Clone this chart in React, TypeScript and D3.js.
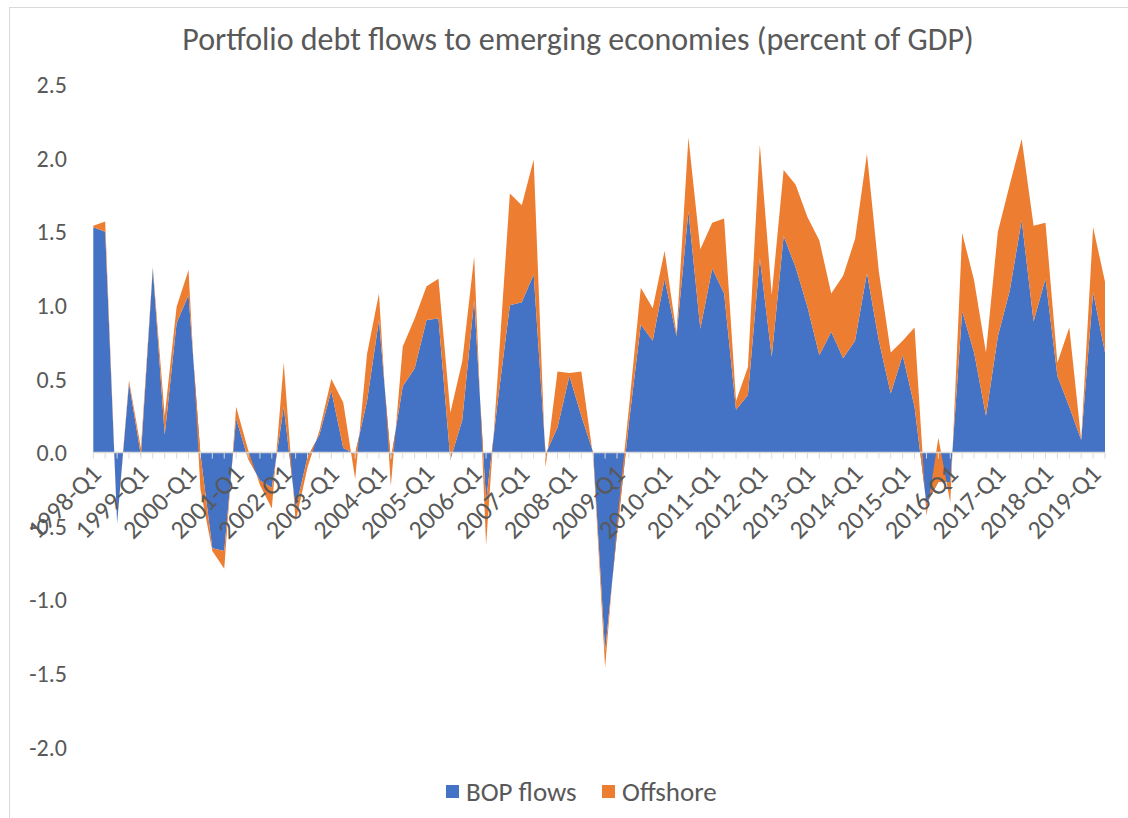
import React from "react";
import * as d3 from "d3";

const years = d3.range(1998, 2020);
const quarters: string[] = [];
years.forEach((y) => [1, 2, 3, 4].forEach((q) => quarters.push(`${y}-Q${q}`)));
const categories = quarters.slice(0, 86);

const bopFlows = [
  1.53, 1.5, -0.48, 0.47, -0.02, 1.25, 0.12, 0.88, 1.07, -0.01,
  -0.65, -0.67, 0.23, -0.04, -0.19, -0.24, 0.31, -0.38, -0.03, 0.12,
  0.42, 0.03, -0.01, 0.35, 0.9, -0.05, 0.45, 0.57, 0.9, 0.91,
  -0.05, 0.22, 1.04, -0.33, 0.36, 1.0, 1.02, 1.21, -0.01, 0.17,
  0.52, 0.25, 0.0, -1.35, -0.55, 0.2, 0.87, 0.76, 1.18, 0.79,
  1.64, 0.84, 1.25, 1.08, 0.29, 0.39, 1.32, 0.65, 1.47, 1.26,
  0.99, 0.66, 0.82, 0.64, 0.76, 1.22, 0.76, 0.4, 0.66, 0.31,
  -0.35, -0.2, -0.2, 0.96, 0.68, 0.25, 0.79, 1.1, 1.58, 0.89,
  1.18, 0.52, 0.31, 0.085, 1.09, 0.68,
];

const offshore = [
  0.01, 0.07, 0.0, 0.02, 0.05, 0.01, 0.13, 0.11, 0.17, -0.24,
  -0.02, -0.12, 0.08, 0.06, -0.03, -0.14, 0.3, -0.09, -0.07, 0.03,
  0.08, 0.31, -0.17, 0.32, 0.18, -0.18, 0.27, 0.34, 0.23, 0.27,
  0.32, 0.4, 0.29, -0.3, 0.19, 0.76, 0.66, 0.78, -0.09, 0.38,
  0.02, 0.3, -0.03, -0.11, 0.07, 0.1, 0.25, 0.22, 0.19, 0.02,
  0.5, 0.54, 0.31, 0.51, 0.06, 0.19, 0.77, 0.42, 0.45, 0.56,
  0.61, 0.78, 0.26, 0.56, 0.69, 0.81, 0.47, 0.28, 0.1, 0.54,
  -0.08, 0.3, -0.14, 0.53, 0.49, 0.43, 0.71, 0.72, 0.55, 0.65,
  0.38, 0.09, 0.54, 0.0, 0.44, 0.48,
];

const yTicks = [2.5, 2.0, 1.5, 1.0, 0.5, 0.0, -0.5, -1.0, -1.5, -2.0];

const seriesNames = ["BOP flows", "Offshore"];
const colors = ["#4472C4", "#ED7D31"];
const title = "Portfolio debt flows to emerging economies (percent of GDP)";

const FONT = "Carlito, Calibri, Lato, sans-serif";
const TEXT = "#595959";

const fmt = (v: number) => v.toFixed(1);

export default function App() {
  const W = 1128;
  const H = 818;
  const x = d3.scaleLinear().domain([0, categories.length - 1]).range([93.3, 1105]);
  const y = d3.scaleLinear().domain([-2, 2.5]).range([746.9, 84.5]);

  const rows = categories.map((c, i) => ({
    i,
    bop: bopFlows[i],
    total: bopFlows[i] + offshore[i],
  }));

  const blueArea = d3
    .area<any>()
    .x((d) => x(d.i))
    .y0(y(0))
    .y1((d) => y(d.bop));
  const orangeArea = d3
    .area<any>()
    .x((d) => x(d.i))
    .y0((d) => y(d.bop))
    .y1((d) => y(d.total));

  const y0 = y(0);

  return (
    <svg
      width={W}
      height={H}
      style={{ position: "absolute", left: 0, top: 0, background: "#fff" }}
      fontFamily={FONT}
    >
      <rect x={0} y={0} width={W} height={H} fill="#fff" />
      <rect x={9.5} y={7.5} width={W + 20} height={H + 20} fill="none" stroke="#d9d9d9" strokeWidth={1} />
      <text x={578} y={50} textAnchor="middle" fontSize={32} fill={TEXT}>
        {title}
      </text>
      {yTicks.map((t) => (
        <text key={t} x={67} y={y(t)} dy="0.36em" textAnchor="end" fontSize={24} fill={TEXT}>
          {fmt(t)}
        </text>
      ))}
      <path d={blueArea(rows) || ""} fill={colors[0]} />
      <path d={orangeArea(rows) || ""} fill={colors[1]} />
      <line x1={x(0)} x2={x(categories.length - 1)} y1={y0} y2={y0} stroke="#d9d9d9" strokeWidth={1.5} />
      {categories.map((c, i) => (
        <line key={c} x1={x(i)} x2={x(i)} y1={y0} y2={y0 + 6} stroke="#d9d9d9" strokeWidth={1} />
      ))}
      {categories.map((c, i) =>
        i % 4 === 0 ? (
          <text
            key={"l" + c}
            transform={`translate(${x(i) - 4},${y0 + 10}) rotate(-45)`}
            dy="0.72em"
            textAnchor="end"
            fontSize={26}
            fill={TEXT}
          >
            {c}
          </text>
        ) : null
      )}
      <g>
        <rect x={446} y={785} width={13} height={13} fill={colors[0]} />
        <text x={466} y={791.5} dy="0.36em" fontSize={27} fill={TEXT}>
          {seriesNames[0]}
        </text>
        <rect x={602} y={785} width={13} height={13} fill={colors[1]} />
        <text x={622} y={791.5} dy="0.36em" fontSize={27} fill={TEXT}>
          {seriesNames[1]}
        </text>
      </g>
    </svg>
  );
}
